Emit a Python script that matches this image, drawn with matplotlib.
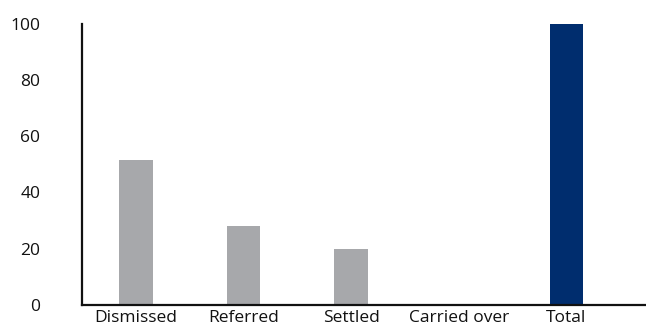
import matplotlib.pyplot as plt

# outcomes as a share of all cases (%)
categories = ['Dismissed', 'Referred', 'Settled', 'Carried over', 'Total']
values = [51.6, 28.1, 20.0, 0.0, 100.0]
colors = ['#A7A8AB', '#A7A8AB', '#A7A8AB', '#A7A8AB', '#002D6E']

plt.rcParams['font.family'] = ['Open Sans', 'DejaVu Sans']

fig = plt.figure(figsize=(6.46, 3.31), dpi=100)
ax = fig.add_axes([0.127, 0.079, 0.873, 0.849])

x = range(len(categories))
ax.bar(x, values, width=0.31, color=colors)

ax.set_xlim(-0.5, 4.74)
ax.set_ylim(0, 100)
ax.set_yticks([0, 20, 40, 60, 80, 100])
ax.set_xticks(list(x))
ax.set_xticklabels(categories)

for side in ['top', 'right']:
    ax.spines[side].set_visible(False)
for side in ['left', 'bottom']:
    ax.spines[side].set_linewidth(1.6)
    ax.spines[side].set_color('#111111')

ax.tick_params(axis='both', length=0, labelsize=12.5, colors='#111111')
ax.tick_params(axis='y', pad=30)
ax.tick_params(axis='x', pad=4)

fig.savefig('out.png', dpi=100)
